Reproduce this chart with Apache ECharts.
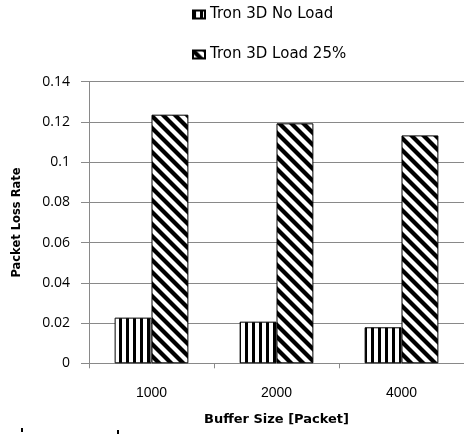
<!DOCTYPE html>
<html><head><meta charset="utf-8">
<script src="https://cdn.jsdelivr.net/npm/echarts@6/dist/echarts.min.js"></script>
<style>html,body{margin:0;padding:0;background:#fff}#c{width:464px;height:434px}</style>
</head><body><div id="c"></div>
<script>
const categories = ['1000', '2000', '4000'];
const seriesNames = ['Tron 3D No Load', 'Tron 3D Load 25%'];
const noLoad = [0.0227, 0.0207, 0.0179];
const load25 = [0.1236, 0.1193, 0.1133];
const yTicks = [0, 0.02, 0.04, 0.06, 0.08, 0.1, 0.12, 0.14];

function vStripes() {
  const c = document.createElement('canvas'); c.width = 7; c.height = 7;
  const g = c.getContext('2d');
  g.fillStyle = '#fff'; g.fillRect(0, 0, 7, 7);
  g.fillStyle = '#000'; g.fillRect(0, 0, 3, 7);
  return c;
}
function dStripes() {
  const s = 12;
  const c = document.createElement('canvas'); c.width = s; c.height = s;
  const g = c.getContext('2d');
  g.fillStyle = '#fff'; g.fillRect(0, 0, s, s);
  g.strokeStyle = '#000'; g.lineWidth = 4.2;
  for (const o of [-s, 0, s]) { g.beginPath(); g.moveTo(o - 2, -2); g.lineTo(o + s + 2, s + 2); g.stroke(); }
  return c;
}
const gray = '#898989';
const chart = echarts.init(document.getElementById('c'), null, {renderer: 'canvas'});
chart.setOption({
  animation: false,
  backgroundColor: '#fff',
  legend: {
    orient: 'vertical', left: 187, top: 2, itemWidth: 12, itemHeight: 8, itemGap: 25,
    icon: 'rect',
    textStyle: {fontFamily: 'DejaVu Sans', fontSize: 15, color: '#000'},
    data: seriesNames
  },
  grid: {left: 89, right: -1, top: 81.7, bottom: 70.7},
  xAxis: {
    type: 'category', data: categories,
    axisLine: {lineStyle: {color: gray}},
    axisTick: {show: true, length: 5, lineStyle: {color: gray}},
    axisLabel: {margin: 23, fontFamily: '"Liberation Sans Narrow", "Liberation Sans"', fontSize: 14, color: '#000'},
    name: 'Buffer Size [Packet]', nameLocation: 'middle', nameGap: 50,
    nameTextStyle: {fontFamily: 'DejaVu Sans', fontWeight: 'bold', fontSize: 13, color: '#000'}
  },
  yAxis: {
    type: 'value', min: 0, max: 0.14, interval: 0.02,
    axisLine: {show: true, lineStyle: {color: gray}},
    axisTick: {show: true, inside: false, length: 8, lineStyle: {color: gray}},
    splitLine: {lineStyle: {color: gray}},
    axisLabel: {margin: 19, fontFamily: 'Open Sans', fontSize: 14, color: '#000',
      formatter: v => { const t = yTicks.find(x => Math.abs(x - v) < 1e-9); return String(t !== undefined ? t : v); }},
    name: 'Packet Loss Rate', nameLocation: 'middle', nameGap: 66,
    nameTextStyle: {fontFamily: 'DejaVu Sans', fontWeight: 'bold', fontSize: 11.5, color: '#000'}
  },
  series: [
    {name: seriesNames[0], type: 'bar', data: noLoad, barGap: '0%', barCategoryGap: '41%',
     itemStyle: {color: {image: vStripes(), repeat: 'repeat'}, borderColor: '#000', borderWidth: 1}},
    {name: seriesNames[1], type: 'bar', data: load25, barGap: '0%', barCategoryGap: '41%',
     itemStyle: {color: {image: dStripes(), repeat: 'repeat'}, borderColor: '#000', borderWidth: 1}}
  ],
  graphic: [
    {type: 'rect', shape: {x: 21, y: 428, width: 2, height: 4}, style: {fill: '#000'}},
    {type: 'rect', shape: {x: 117, y: 430, width: 2, height: 4}, style: {fill: '#000'}}
  ]
});
</script></body></html>
